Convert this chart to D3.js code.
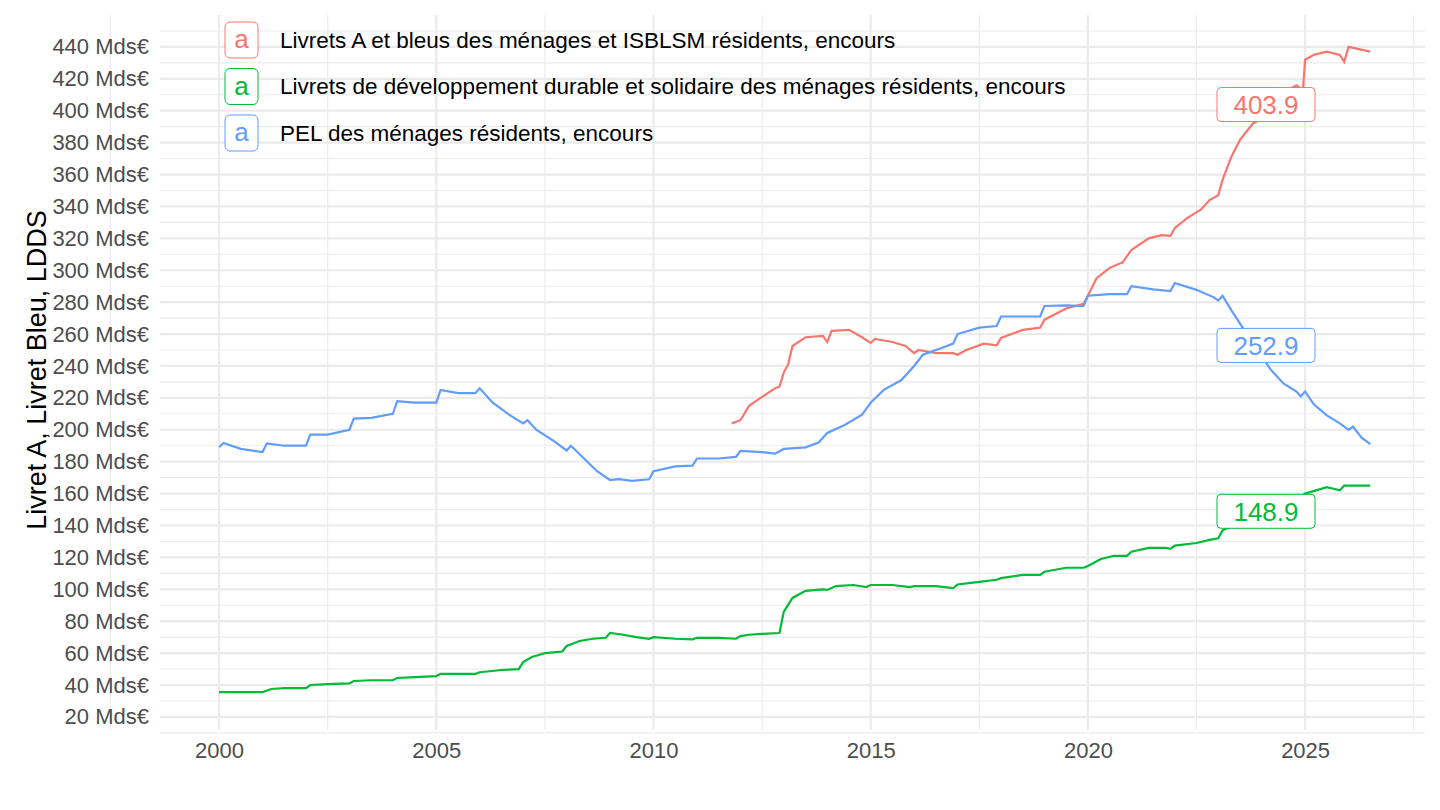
<!DOCTYPE html>
<html lang="fr">
<head>
<meta charset="utf-8">
<script src="https://d3js.org/d3.v7.min.js"></script>
<style>
  body { margin: 0; background: #fff; }
  text { font-family: "Liberation Sans", Arial, sans-serif; }
</style>
</head>
<body>
<script>
// series: [year, Mds€]
var livretA = [[2011.8,204],[2012.0,206],[2012.2,215],[2012.5,220.6],[2012.8,226],[2012.9,227],[2013.0,236],[2013.1,241],[2013.2,252.5],[2013.5,258],[2013.9,258.8],[2014.0,255],[2014.1,262],[2014.5,262.6],[2014.8,258],[2015.0,254.5],[2015.1,257],[2015.5,255],[2015.8,252.5],[2016.0,248],[2016.1,250],[2016.5,248],[2016.9,248],[2017.0,247],[2017.2,250],[2017.6,254],[2017.9,253],[2018.0,257.6],[2018.5,262.6],[2018.9,264],[2019.0,269],[2019.5,276],[2019.9,279],[2020.0,284],[2020.2,295],[2020.5,301.5],[2020.8,305],[2021.0,312.7],[2021.4,320],[2021.7,322],[2021.9,321.5],[2022.0,326.5],[2022.3,333],[2022.6,338],[2022.8,344],[2023.0,347],[2023.1,356.6],[2023.3,371],[2023.5,381.7],[2023.8,392],[2024.0,395],[2024.3,400.5],[2024.6,413],[2024.8,416],[2024.95,413],[2025.0,432],[2025.2,435],[2025.5,437],[2025.8,435],[2025.9,430.6],[2026.0,440],[2026.5,437]];
var ldds = [[2000.0,35.6],[2001.0,35.6],[2001.2,37.5],[2001.5,38],[2002.0,38],[2002.1,40],[2002.5,40.6],[2003.0,41],[2003.1,42.5],[2003.5,43],[2004.0,43],[2004.1,44.4],[2004.5,45],[2005.0,45.6],[2005.1,47],[2005.5,47],[2005.9,47],[2006.0,48],[2006.5,49.4],[2006.9,50],[2007.0,54.4],[2007.2,57.6],[2007.5,60],[2007.9,61],[2008.0,64.5],[2008.3,67.6],[2008.6,69],[2008.9,69.6],[2009.0,72.6],[2009.3,71.5],[2009.6,70],[2009.9,69],[2010.0,70],[2010.5,69],[2010.9,68.6],[2011.0,69.6],[2011.5,69.6],[2011.9,69],[2012.0,70.7],[2012.2,71.5],[2012.5,72],[2012.9,72.6],[2013.0,86],[2013.2,94.6],[2013.5,99],[2013.9,100],[2014.0,99.6],[2014.2,102],[2014.6,102.7],[2014.9,101.4],[2015.0,102.7],[2015.5,102.7],[2015.9,101.4],[2016.0,102],[2016.5,102],[2016.9,100.8],[2017.0,103],[2017.5,104.6],[2017.9,106],[2018.0,107],[2018.5,109],[2018.9,109],[2019.0,111],[2019.5,113.5],[2019.9,113.5],[2020.0,114.6],[2020.3,119],[2020.6,121],[2020.9,121],[2021.0,123.6],[2021.4,126],[2021.8,126],[2021.9,125.4],[2022.0,127.4],[2022.5,129],[2022.8,131],[2023.0,132],[2023.1,137],[2023.5,141.6],[2023.9,144],[2024.2,147],[2024.5,152.4],[2024.8,156],[2025.0,160],[2025.5,164],[2025.8,162],[2025.9,165],[2026.5,165]];
var pel = [[2000.0,189],[2000.1,191.7],[2000.5,188],[2001.0,186],[2001.1,191.5],[2001.5,190],[2002.0,190],[2002.1,197],[2002.5,197],[2003.0,200],[2003.1,207],[2003.5,207.5],[2004.0,210],[2004.1,218],[2004.5,217],[2005.0,217],[2005.1,225],[2005.5,223],[2005.9,223],[2006.0,226],[2006.3,217],[2006.7,209],[2007.0,204],[2007.1,206],[2007.3,200],[2007.7,193],[2008.0,187],[2008.1,190],[2008.4,182],[2008.7,174],[2009.0,168.5],[2009.2,169],[2009.5,168],[2009.9,169],[2010.0,174],[2010.5,177],[2010.9,177.5],[2011.0,182],[2011.5,182],[2011.9,183],[2012.0,186.7],[2012.5,186],[2012.8,185],[2013.0,188],[2013.5,189],[2013.8,192],[2014.0,198],[2014.4,203],[2014.8,209.5],[2015.0,217],[2015.3,225],[2015.7,231],[2016.0,240],[2016.2,247],[2016.6,251],[2016.9,254],[2017.0,260],[2017.5,264],[2017.9,265],[2018.0,271],[2018.5,271],[2018.9,271],[2019.0,277.6],[2019.5,278],[2019.9,277.6],[2020.0,284],[2020.5,285],[2020.9,285],[2021.0,290],[2021.5,288],[2021.9,287],[2022.0,292],[2022.5,287.7],[2022.9,283],[2023.0,281],[2023.1,284],[2023.3,275],[2023.6,262.5],[2023.9,250],[2024.2,238],[2024.5,229],[2024.8,224],[2024.9,221],[2025.0,224],[2025.2,216],[2025.5,209],[2025.8,204],[2026.0,200],[2026.1,202],[2026.3,195],[2026.5,191]];

var seriesNames = ["Livrets A et bleus des ménages et ISBLSM résidents, encours",
  "Livrets de développement durable et solidaire des ménages résidents, encours",
  "PEL des ménages résidents, encours"];
var colors = ["#F8766D", "#00BA38", "#619CFF"];
var labelYear = 2024.1;
var labelValues = [403.9, 148.9, 252.9];
var xTicks = [2000, 2005, 2010, 2015, 2020, 2025];
var yTicks = d3.range(20, 441, 20);

var W = 1440, H = 810;
var svg = d3.select("body").append("svg").attr("width", W).attr("height", H);

var x = d3.scaleLinear().domain([1998.64, 2027.76]).range([160, 1425]);
var y = d3.scaleLinear().domain([11.8, 460]).range([730, 15]);

// grid
var g = svg.append("g");
d3.range(10, 451, 20).forEach(function (v) {
  g.append("line").attr("x1", 160).attr("x2", 1425).attr("y1", y(v)).attr("y2", y(v))
    .attr("stroke", "#ebebeb").attr("stroke-width", 1.1);
});
yTicks.forEach(function (v) {
  g.append("line").attr("x1", 160).attr("x2", 1425).attr("y1", y(v)).attr("y2", y(v))
    .attr("stroke", "#ebebeb").attr("stroke-width", 2.2);
});
[1997.5, 2002.5, 2007.5, 2012.5, 2017.5, 2022.5, 2027.5].forEach(function (v) {
  g.append("line").attr("x1", x(v)).attr("x2", x(v)).attr("y1", 15).attr("y2", 730)
    .attr("stroke", "#ebebeb").attr("stroke-width", 1.1);
});
xTicks.forEach(function (v) {
  g.append("line").attr("x1", x(v)).attr("x2", x(v)).attr("y1", 15).attr("y2", 730)
    .attr("stroke", "#ebebeb").attr("stroke-width", 2.2);
});

// axes
var yAxis = svg.append("g").attr("transform", "translate(152,0)")
  .call(d3.axisLeft(y).tickValues(yTicks).tickSize(0).tickFormat(function (d) { return d + " Mds€"; }));
yAxis.select(".domain").remove();
yAxis.selectAll("text").attr("fill", "#4d4d4d").style("font-size", "22px");

var xAxis = svg.append("g").attr("transform", "translate(0,736)")
  .call(d3.axisBottom(x).tickValues(xTicks).tickSize(0).tickFormat(d3.format("d")));
xAxis.select(".domain").remove();
xAxis.selectAll("text").attr("fill", "#4d4d4d").style("font-size", "22px").attr("dy", "0.85em");

svg.append("text").attr("transform", "translate(46,370) rotate(-90)")
  .attr("text-anchor", "middle").style("font-size", "27px").attr("fill", "#000")
  .text("Livret A, Livret Bleu, LDDS");

// lines
var line = d3.line().x(function (d) { return x(d[0]); }).y(function (d) { return y(d[1]); });
[livretA, ldds, pel].forEach(function (s, i) {
  svg.append("path").datum(s).attr("d", line).attr("fill", "none")
    .attr("stroke", colors[i]).attr("stroke-width", 2.2);
});

// value labels
labelValues.forEach(function (v, i) {
  var cx = x(labelYear), cy = y(v);
  svg.append("rect").attr("x", cx - 49).attr("y", cy - 17).attr("width", 98).attr("height", 34)
    .attr("rx", 4).attr("fill", "#fff").attr("stroke", colors[i]).attr("stroke-width", 1);
  svg.append("text").attr("x", cx).attr("y", cy).attr("dy", "0.36em").attr("text-anchor", "middle")
    .attr("fill", colors[i]).style("font-size", "26px").text(v.toFixed(1));
});

// legend
seriesNames.forEach(function (n, i) {
  var ly = 40 + i * 46.5;
  svg.append("rect").attr("x", 225).attr("y", ly - 18).attr("width", 33).attr("height", 36)
    .attr("rx", 5).attr("fill", "#fff").attr("stroke", colors[i]);
  svg.append("text").attr("x", 241.5).attr("y", ly).attr("dy", "0.32em").attr("text-anchor", "middle")
    .attr("fill", colors[i]).style("font-size", "26px").text("a");
  svg.append("text").attr("x", 280).attr("y", ly).attr("dy", "0.35em")
    .style("font-size", "22.5px").attr("fill", "#000").text(n);
});
</script>
</body>
</html>
